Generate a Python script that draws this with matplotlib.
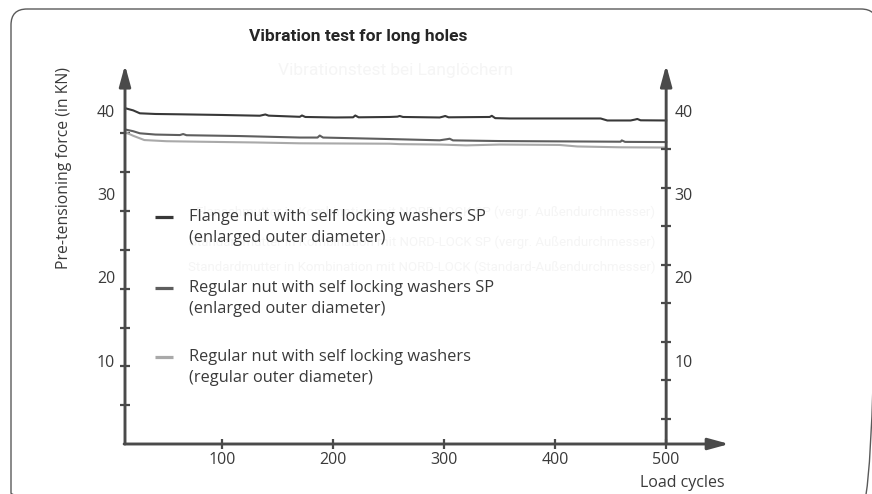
import numpy as np
import matplotlib
matplotlib.use("Agg")
import matplotlib.pyplot as plt
from matplotlib.patches import FancyBboxPatch

plt.rcParams["font.family"] = ["Open Sans", "DejaVu Sans"]
plt.rcParams["font.size"] = 11.5
NARROW = ["Roboto", "DejaVu Sans"]

# ---- measured curves (load cycles -> pre-tensioning force in kN) ----
flange_x = [12, 20, 26, 40, 62, 100, 134, 137, 139, 142, 170, 172, 175, 202, 218, 220, 223,
            251, 258, 260, 263, 296, 299, 301, 304, 341, 343, 346, 359, 441, 447, 468, 472,
            474, 477, 500]
flange_y = [40.34, 40.05, 39.70, 39.62, 39.58, 39.50, 39.41, 39.50, 39.56, 39.42, 39.28, 39.44,
            39.26, 39.20, 39.22, 39.44, 39.22, 39.26, 39.30, 39.38, 39.26, 39.20, 39.30, 39.38,
            39.22, 39.26, 39.40, 39.12, 39.08, 39.08, 38.84, 38.84, 38.95, 39.02, 38.86, 38.84]

reg_sp_x = [12, 20, 26, 40, 62, 65, 68, 116, 170, 186, 188, 191, 251, 296, 303, 305, 308,
            350, 459, 460, 463, 500]
reg_sp_y = [37.78, 37.55, 37.30, 37.15, 37.09, 37.21, 37.07, 36.97, 36.79, 36.79, 37.03, 36.79,
            36.61, 36.46, 36.60, 36.65, 36.45, 36.37, 36.29, 36.45, 36.27, 36.25]

reg_x = [12, 20, 30, 50, 80, 130, 170, 251, 260, 296, 320, 350, 404, 420, 459, 500]
reg_y = [37.49, 37.00, 36.49, 36.35, 36.29, 36.20, 36.10, 36.05, 36.00, 35.95, 35.85, 35.95,
         35.90, 35.72, 35.62, 35.59]

series_x = [flange_x, reg_sp_x, reg_x]
series_y = [flange_y, reg_sp_y, reg_y]
series_colors = ["#383838", "#5e5e5e", "#a9a9a9"]
series_labels = [
    ("Flange nut with self locking washers SP", "(enlarged outer diameter)"),
    ("Regular nut with self locking washers SP", "(enlarged outer diameter)"),
    ("Regular nut with self locking washers", "(regular outer diameter)"),
]
series_labels_de = [
    "Flanschmutter in Kombination mit NORD-LOCK SP (vergr. Außendurchmesser)",
    "Standardmutter in Kombination mit NORD-LOCK SP (vergr. Außendurchmesser)",
    "Standardmutter in Kombination mit NORD-LOCK (Standard-Außendurchmesser)",
]

x_ticks = [100, 200, 300, 400, 500]
y_labels = [10, 20, 30, 40]
left_marks = [4.66 * k for k in range(1, 9)]
right_marks = [3.0 + 4.63 * k for k in range(8)]

X0, X1, XTIP = 12.6, 562.0, 556.8
YTOP, YTIP = 46.1, 45.5
AX_COL = "#4a4a4a"
TXT_COL = "#3a3a3a"
GHOST = "#f5f5f5"

fig = plt.figure(figsize=(8.72, 4.94), dpi=100)

# pixel-space overlay for frame, headings and key
bg = fig.add_axes([0, 0, 1, 1], zorder=0)
bg.set_xlim(0, 872); bg.set_ylim(494, 0); bg.axis("off")
bg.add_patch(FancyBboxPatch((11, 9), 866, 500, boxstyle="round,pad=0,rounding_size=16",
                            fc="none", ec="#5a5a5a", lw=1.0))
bg.text(358, 36, "Vibration test for long holes", family=NARROW, weight="bold",
        fontsize=12.5, color="#262626", ha="center", va="center")
bg.text(396, 71, "Vibrationstest bei Langlöchern", family=NARROW, fontsize=12.5,
        color=GHOST, ha="center", va="center")
for yy, txt in zip([212, 242, 267], series_labels_de):
    bg.text(655, yy, txt, family=NARROW, fontsize=9.5, color=GHOST, ha="right", va="center")
for yy, col, (l1, l2) in zip([217, 288, 357], series_colors, series_labels):
    bg.plot([155, 173], [yy, yy], color=col, lw=2.3, solid_capstyle="butt")
    bg.text(189, yy, l1, color=TXT_COL, ha="left", va="center", fontsize=11.8)
    bg.text(189, yy + 21, l2, color=TXT_COL, ha="left", va="center", fontsize=11.8)

ax = fig.add_axes([125 / 872, 1 - 444 / 494, 610 / 872, 384 / 494], zorder=1)
ax.patch.set_visible(False)
for xs, ys, col in zip(series_x, series_y, series_colors):
    ax.plot(xs, ys, color=col, lw=1.5, solid_joinstyle="round")
ax.set_xlim(X0, X1); ax.set_ylim(0, YTOP)
for s in ax.spines.values():
    s.set_visible(False)

arrow = dict(arrowstyle="-|>,head_length=1.1,head_width=0.3", lw=2.1, color=AX_COL,
             shrinkA=0, shrinkB=0)
ax.annotate("", xy=(X0, YTIP), xytext=(X0, 0), arrowprops=arrow)
ax.annotate("", xy=(500, YTIP), xytext=(500, 0), arrowprops=arrow)
ax.annotate("", xy=(XTIP, 0), xytext=(X0 - 0.8, 0), arrowprops=arrow)

ax.set_xticks(x_ticks)
ax.tick_params(axis="x", direction="inout", length=7, width=1.6, color=AX_COL, pad=2,
               labelcolor=TXT_COL)
ax.set_yticks(y_labels)
ax.set_yticks(left_marks, minor=True)
ax.tick_params(axis="y", which="major", length=0, pad=7, labelcolor=TXT_COL)
ax.tick_params(axis="y", which="minor", direction="inout", length=7, width=1.6, color=AX_COL)
ax.set_xlabel("Load cycles", color=TXT_COL)
ax.xaxis.set_label_coords(0.913, -0.082)
ax.set_ylabel("Pre-tensioning force (in KN)", color=TXT_COL, fontsize=11.3)
ax.yaxis.set_label_coords(-0.087, 0.719)

tw = ax.twinx()
tw.set_ylim(0, YTOP)
for s in tw.spines.values():
    s.set_visible(False)
tw.spines["right"].set_position(("data", 500))
tw.set_yticks(y_labels)
tw.set_yticks(right_marks, minor=True)
tw.tick_params(axis="y", which="major", length=0, pad=6, labelcolor=TXT_COL)
tw.tick_params(axis="y", which="minor", direction="inout", length=7, width=1.6, color=AX_COL)

fig.savefig("out.png", dpi=100)
